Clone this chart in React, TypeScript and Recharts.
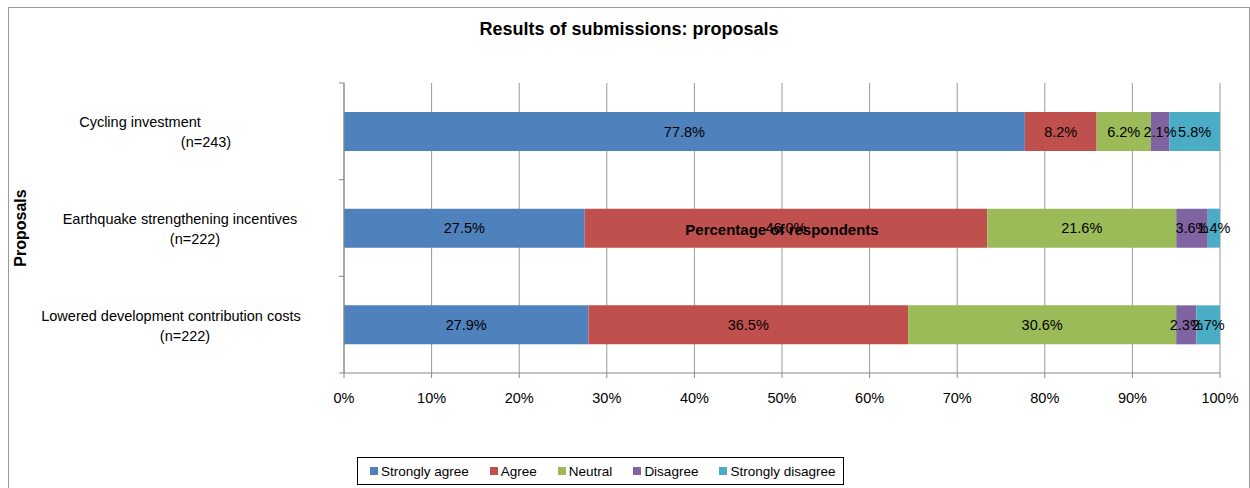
import { BarChart, Bar, XAxis, YAxis, CartesianGrid, LabelList } from 'recharts';

const proposals = [
  'Cycling investment|(n=243)',
  'Earthquake strengthening incentives|(n=222)',
  'Lowered development contribution costs|(n=222)',
];
const stronglyAgree = [77.8, 27.5, 27.9];
const agree = [8.2, 46.0, 36.5];
const neutral = [6.2, 21.6, 30.6];
const disagree = [2.1, 3.6, 2.3];
const stronglyDisagree = [5.8, 1.4, 2.7];
const xTicks = [0, 10, 20, 30, 40, 50, 60, 70, 80, 90, 100];

const SERIES = [
  { key: 'sa', name: 'Strongly agree', color: '#4F81BD', values: stronglyAgree },
  { key: 'a', name: 'Agree', color: '#C0504D', values: agree },
  { key: 'n', name: 'Neutral', color: '#9BBB59', values: neutral },
  { key: 'd', name: 'Disagree', color: '#8064A2', values: disagree },
  { key: 'sd', name: 'Strongly disagree', color: '#4BACC6', values: stronglyDisagree },
];

const data = proposals.map((p, i) => {
  const row: Record<string, string | number> = { proposal: p };
  SERIES.forEach((s) => (row[s.key] = s.values[i]));
  return row;
});

const FONT = '"Liberation Sans", Arial, sans-serif';
const W = 1240;
const H = 470;
const Y_W = 335;
const M = { top: 75, right: 29, bottom: 75, left: 0 };
const X_H = 30;
const PLOT_H = H - M.top - M.bottom - X_H;

// centre x of the two lines of each category label
const LABEL_X: [number, number][] = [
  [131, 197],
  [171, 186],
  [162, 176],
];

function CategoryTick(props: any) {
  const { y, payload, index } = props;
  const [l1, l2] = String(payload.value).split('|');
  const pos = LABEL_X[index] || [170, 185];
  const band = PLOT_H / proposals.length;
  return (
    <g>
      <line x1={Y_W - 5} x2={Y_W} y1={y - band / 2} y2={y - band / 2} stroke="#888" />
      {index === proposals.length - 1 && (
        <line x1={Y_W - 5} x2={Y_W} y1={y + band / 2} y2={y + band / 2} stroke="#888" />
      )}
      <text x={pos[0]} y={y - 4} textAnchor="middle" fontSize={14.5} fill="#000" fontFamily={FONT}>
        {l1}
      </text>
      <text x={pos[1]} y={y + 16} textAnchor="middle" fontSize={14.5} fill="#000" fontFamily={FONT}>
        {l2}
      </text>
    </g>
  );
}

export default function App() {
  return (
    <div
      style={{
        position: 'absolute',
        top: 7,
        left: 8,
        width: W,
        height: 480,
        border: '1px solid #999',
        borderBottom: 'none',
        fontFamily: FONT,
        background: '#fff',
        overflow: 'hidden',
      }}
    >
      <div
        style={{
          position: 'absolute',
          top: 11,
          left: 0,
          width: W,
          textAlign: 'center',
          fontWeight: 'bold',
          fontSize: 18,
        }}
      >
        Results of submissions: proposals
      </div>
      <BarChart
        width={W}
        height={H}
        data={data}
        layout="vertical"
        stackOffset="expand"
        barCategoryGap="30%"
        margin={M}
      >
        <CartesianGrid horizontal={false} stroke="#999" />
        <XAxis
          type="number"
          domain={[0, 1]}
          ticks={xTicks.map((t) => t / 100)}
          tickFormatter={(v: number) => `${Math.round(v * 100)}%`}
          stroke="#888"
          tickSize={5}
          tick={{ fontSize: 14.5, fill: '#000', fontFamily: FONT, dy: 13 }}
          height={X_H}
          interval={0}
        />
        <YAxis
          type="category"
          dataKey="proposal"
          width={Y_W}
          stroke="#888"
          tickLine={false}
          tick={<CategoryTick />}
          interval={0}
          label={{
            value: 'Proposals',
            angle: -90,
            position: 'insideLeft',
            offset: 11,
            style: { fontWeight: 'bold', fontSize: 16, fill: '#000', fontFamily: FONT, textAnchor: 'middle' },
          }}
        />
        {SERIES.map((s) => (
          <Bar key={s.key} dataKey={s.key} name={s.name} stackId="a" fill={s.color} isAnimationActive={false}>
            <LabelList
              dataKey={s.key}
              position="center"
              formatter={(v: any) => `${Number(v).toFixed(1)}%`}
              style={{ fontSize: 14.5, fill: '#000', fontFamily: FONT }}
            />
          </Bar>
        ))}
      </BarChart>
      <div
        style={{
          position: 'absolute',
          left: Y_W,
          width: W - Y_W - M.right,
          top: 213,
          textAlign: 'center',
          fontWeight: 'bold',
          fontSize: 15,
          pointerEvents: 'none',
        }}
      >
        Percentage of respondents
      </div>
      <div
        style={{
          position: 'absolute',
          left: 348,
          top: 449,
          width: 487,
          height: 28,
          border: '1px solid #000',
          display: 'flex',
          alignItems: 'center',
          paddingLeft: 12,
          boxSizing: 'border-box',
          fontSize: 13.5,
          whiteSpace: 'nowrap',
        }}
      >
        {SERIES.map((s) => (
          <div key={s.key} style={{ display: 'flex', alignItems: 'center', marginRight: 21 }}>
            <span style={{ width: 8, height: 8, background: s.color, marginRight: 3, display: 'inline-block' }} />
            {s.name}
          </div>
        ))}
      </div>
    </div>
  );
}
